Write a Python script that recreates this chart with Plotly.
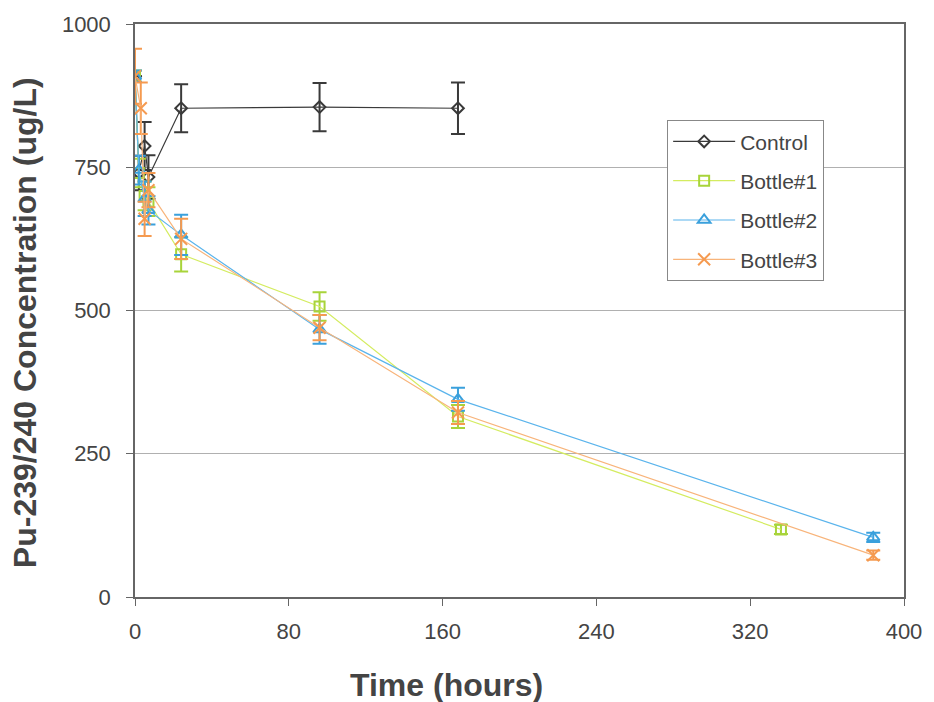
import plotly.graph_objects as go

ctrl_x = [0, 2, 5, 7, 24, 96, 168]
ctrl_y = [909, 740, 787, 733, 853, 855, 853]
ctrl_e = [0, 30, 42, 38, 42, 42, 45]

b1_x = [0, 2, 5, 7, 24, 96, 168, 336]
b1_y = [909, 740, 700, 690, 598, 507, 315, 118]
b1_e = [10, 25, 25, 25, 30, 25, 20, 8]

b2_x = [0, 2, 5, 7, 24, 96, 168, 384]
b2_y = [909, 745, 695, 675, 632, 467, 345, 104]
b2_e = [10, 25, 30, 25, 35, 25, 20, 8]

b3_x = [0, 3, 5, 7, 24, 96, 168, 384]
b3_y = [909, 853, 660, 710, 625, 470, 322, 73]
b3_e = [48, 45, 30, 30, 35, 22, 20, 8]

x_ticks = [0, 80, 160, 240, 320, 400]
y_ticks = [0, 250, 500, 750, 1000]

series = [
    ("Control", ctrl_x, ctrl_y, ctrl_e, "#3a3a3a", "#3a3a3a", "diamond-open", 9),
    ("Bottle#1", b1_x, b1_y, b1_e, "#d4ec60", "#a8d43a", "square-open", 10),
    ("Bottle#2", b2_x, b2_y, b2_e, "#5ab4ec", "#3aa0dc", "triangle-up-open", 11),
    ("Bottle#3", b3_x, b3_y, b3_e, "#f8b47a", "#f59a50", "x-thin-open", 12),
]

fig = go.Figure()
for i, (name, xs, ys, es, lc, mc, sym, sz) in enumerate(series):
    fig.add_trace(go.Scatter(
        x=xs, y=ys, name=name, mode="lines+markers", legendgroup=f"g{i}",
        line=dict(color=lc, width=1.2),
        marker=dict(symbol=sym, size=sz, color=mc, line=dict(color=mc, width=2)),
        error_y=dict(type="data", array=es, visible=True, color=mc, thickness=2, width=7),
    ))

fig.update_layout(
    width=934, height=702,
    margin=dict(l=135, r=27, t=20, b=105),
    paper_bgcolor="white", plot_bgcolor="white",
    font=dict(family="Liberation Sans, Arial, sans-serif", color="#444444"),
    showlegend=True,
    legend=dict(
        x=0.692, y=0.832, xanchor="left", yanchor="top",
        bgcolor="white", bordercolor="#888888", borderwidth=1,
        font=dict(size=21, color="#444444"),
        itemwidth=62, tracegroupgap=9,
    ),
    annotations=[
        dict(text="<b>Time (hours)</b>", xref="paper", yref="paper",
             x=0.405, y=-0.154, xanchor="center", yanchor="middle",
             showarrow=False, font=dict(size=32, color="#444444")),
        dict(text="<b>Pu-239/240 Concentration (ug/L)</b>", xref="paper", yref="paper",
             x=-0.143, y=0.478, xanchor="center", yanchor="middle", textangle=-90,
             showarrow=False, font=dict(size=32, color="#444444")),
    ],
)
fig.update_xaxes(
    range=[0, 400], tickvals=x_ticks, ticktext=[str(v) for v in x_ticks],
    showgrid=False, zeroline=False,
    showline=True, linecolor="#666666", linewidth=1.5, mirror=True,
    ticks="outside", ticklen=7, tickcolor="#666666",
    tickfont=dict(size=22, color="#444444"), ticklabelstandoff=7,
)
fig.update_yaxes(
    range=[0, 1000], tickvals=y_ticks, ticktext=[str(v) for v in y_ticks],
    showgrid=True, gridcolor="#b0b0b0", gridwidth=1, zeroline=False,
    showline=True, linecolor="#666666", linewidth=1.5, mirror=True,
    ticks="outside", ticklen=7, tickcolor="#666666",
    tickfont=dict(size=22, color="#444444"), ticklabelstandoff=11,
)

fig.write_html("out.html")
